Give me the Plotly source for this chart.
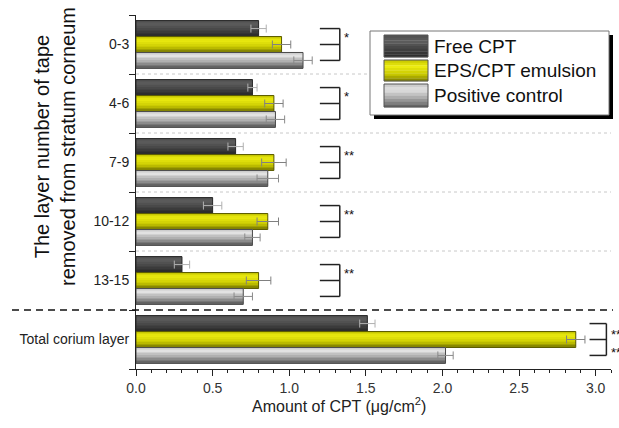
import plotly.graph_objects as go

# ---------------- data ----------------
categories = ["0-3", "4-6", "7-9", "10-12", "13-15", "Total corium layer"]
tick_labels = ["0-3", "4-6", "7-9", "10-12", "13-15", "Total corium layer"]
series_names = ["Free CPT", "EPS/CPT emulsion", "Positive control"]
free_cpt = [0.80, 0.76, 0.65, 0.50, 0.30, 1.51]
free_cpt_err = [0.05, 0.03, 0.05, 0.06, 0.05, 0.05]
eps_cpt = [0.95, 0.90, 0.90, 0.86, 0.80, 2.87]
eps_cpt_err = [0.06, 0.06, 0.08, 0.07, 0.08, 0.06]
positive = [1.09, 0.91, 0.86, 0.76, 0.70, 2.02]
positive_err = [0.06, 0.06, 0.07, 0.05, 0.06, 0.05]
significance = ["*", "*", "**", "**", "**", "**"]
x_ticks = [0.0, 0.5, 1.0, 1.5, 2.0, 2.5, 3.0]

values = [free_cpt, eps_cpt, positive]
errors = [free_cpt_err, eps_cpt_err, positive_err]

# ---------------- style ----------------
FONT = "Arial, 'Liberation Sans', sans-serif"
gradients = [
    [(0.0, "#505050"), (0.3, "#5c5c5c"), (0.7, "#3e3e3e"), (1.0, "#2a2a2a")],
    [(0.0, "#c4c400"), (0.3, "#ecec10"), (0.7, "#c6c600"), (1.0, "#7c7c00")],
    [(0.0, "#c8c8c8"), (0.25, "#e2e2e2"), (0.6, "#a8a8a8"), (1.0, "#5a5a5a")],
]
outline_cols = ["#2a2a2a", "#5a5a00", "#4a4a4a"]
err_cols = ["#b0b0b0", "#808080", "#8a8a8a"]

G = 0.81           # group width (category units)
w = G / 3          # single bar width
N = 10             # gradient strips


def hex2rgb(h):
    h = h.lstrip("#")
    return [int(h[i:i + 2], 16) for i in (0, 2, 4)]


def grad(stops, t):
    for (t0, c0), (t1, c1) in zip(stops[:-1], stops[1:]):
        if t0 <= t <= t1:
            f = (t - t0) / (t1 - t0) if t1 > t0 else 0
            a, b = hex2rgb(c0), hex2rgb(c1)
            return "rgb(%d,%d,%d)" % tuple(round(a[i] + (b[i] - a[i]) * f) for i in range(3))
    return stops[-1][1]


fig = go.Figure()

for s in range(3):
    base_off = -G / 2 + s * w
    for k in range(N):
        fig.add_trace(go.Bar(
            y=categories, x=values[s], orientation="h",
            width=w / N + 0.002, offset=base_off + k * w / N,
            marker=dict(color=grad(gradients[s], (k + 0.5) / N), line=dict(width=0)),
            showlegend=False, hoverinfo="skip"))
    fig.add_trace(go.Bar(
        y=categories, x=values[s], orientation="h", name=series_names[s],
        width=w, offset=base_off,
        marker=dict(color="rgba(0,0,0,0)", line=dict(color=outline_cols[s], width=1)),
        error_x=dict(type="data", array=errors[s], color=err_cols[s], thickness=1, width=4),
        showlegend=False))

# ---------------- helpers for paper coords ----------------
L, R, T, B = 136, 611, 15, 369


def px(x):
    return (x - L) / (R - L)


def py(y):
    return (B - y) / (B - T)


shapes = []
annotations = []

# dotted separators between tape-layer groups
for i in range(4):
    shapes.append(dict(type="line", xref="paper", yref="y", x0=0, x1=1,
                       y0=i + 0.5, y1=i + 0.5, layer="below",
                       line=dict(color="#c8c8c8", width=1, dash="dot")))
# dashed separator before total
shapes.append(dict(type="line", xref="paper", yref="y", x0=px(12), x1=px(613),
                   y0=4.5, y1=4.5, line=dict(color="#111111", width=1.5, dash="7px,5px")))

# significance brackets
for i, sig in enumerate(significance):
    if i < 5:
        bx0, bx1 = 1.20, 1.33
    else:
        bx0, bx1 = 2.96, 3.07
    for dy in (-w, 0, w):
        shapes.append(dict(type="line", xref="x", yref="y", x0=bx0, x1=bx1,
                           y0=i + dy, y1=i + dy, line=dict(color="#222222", width=1.5)))
    shapes.append(dict(type="line", xref="x", yref="y", x0=bx1, x1=bx1,
                       y0=i - w, y1=i + w, line=dict(color="#222222", width=1.5)))
    if i < 5:
        annotations.append(dict(x=bx1, y=i - 0.12, xref="x", yref="y", text=sig,
                                showarrow=False, xanchor="left", yanchor="middle", xshift=2,
                                font=dict(family=FONT, size=13, color="#111111")))
    else:
        for dy in (-0.08, 0.22):
            annotations.append(dict(x=px(609), y=i + dy, xref="paper", yref="y", text=sig,
                                    showarrow=False, xanchor="left", yanchor="middle",
                                    font=dict(family=FONT, size=13, color="#111111")))

# custom legend
shapes.append(dict(type="rect", xref="paper", yref="paper",
                   x0=px(374), x1=px(613), y0=py(119), y1=py(35),
                   fillcolor="#000000", line=dict(width=0)))
shapes.append(dict(type="rect", xref="paper", yref="paper",
                   x0=px(370), x1=px(609), y0=py(115), y1=py(31),
                   fillcolor="#ffffff", line=dict(color="#777777", width=1)))
rows = [(35, 57), (60, 81), (84, 107)]
for s, (ya, yb) in enumerate(rows):
    M = 8
    for k in range(M):
        y0 = ya + (yb - ya) * k / M
        y1 = ya + (yb - ya) * (k + 1) / M
        shapes.append(dict(type="rect", xref="paper", yref="paper",
                           x0=px(384), x1=px(428), y0=py(y1 + 0.3), y1=py(y0),
                           fillcolor=grad(gradients[s], (k + 0.5) / M), line=dict(width=0)))
    shapes.append(dict(type="rect", xref="paper", yref="paper",
                       x0=px(384), x1=px(428), y0=py(yb), y1=py(ya),
                       line=dict(color="#555555", width=1)))
    annotations.append(dict(x=px(432), y=py((ya + yb) / 2), xref="paper", yref="paper",
                            text=series_names[s], showarrow=False, xanchor="left",
                            yanchor="middle",
                            font=dict(family=FONT, size=19, color="#111111")))

# axis titles
annotations.append(dict(x=px(339), y=py(405), xref="paper", yref="paper",
                        text="Amount of CPT (\u03bcg/cm<sup>2</sup>)", showarrow=False,
                        xanchor="center", yanchor="middle",
                        font=dict(family=FONT, size=16, color="#222222")))
annotations.append(dict(x=px(55), y=py(147), xref="paper", yref="paper",
                        text="The layer number of tape<br>removed from stratum corneum",
                        showarrow=False, textangle=-90, xanchor="center", yanchor="middle",
                        font=dict(family=FONT, size=20, color="#111111")))

fig.update_layout(
    width=619, height=428,
    margin=dict(l=L, r=619 - R, t=T, b=428 - B, autoexpand=False),
    barmode="overlay",
    plot_bgcolor="#ffffff", paper_bgcolor="#ffffff",
    showlegend=False,
    shapes=shapes, annotations=annotations,
    font=dict(family=FONT, color="#222222"),
)
fig.update_xaxes(
    range=[0, 3.1], tickvals=x_ticks, ticktext=["%.1f" % v for v in x_ticks],
    ticks="outside", ticklen=6, tickcolor="#222222", showline=True,
    linecolor="#222222", linewidth=1, showgrid=False, zeroline=False, automargin=False,
    tickfont=dict(family=FONT, size=14, color="#333333"),
    minor=dict(ticks="outside", ticklen=3, dtick=0.1, tick0=0, tickcolor="#222222"),
)
fig.update_yaxes(
    type="category", categoryorder="array", categoryarray=categories,
    tickvals=categories, ticktext=tick_labels,
    range=[5.5, -0.5], tickson="boundaries",
    ticks="outside", ticklen=6, tickcolor="#222222", showline=True,
    linecolor="#222222", linewidth=1, showgrid=False, zeroline=False, automargin=False,
    ticklabelstandoff=3,
    tickfont=dict(family=FONT, size=14, color="#222222"),
)

fig.write_html("out.html", config={"displayModeBar": False},
               post_script="document.body.style.margin='0';document.body.style.padding='0';")
